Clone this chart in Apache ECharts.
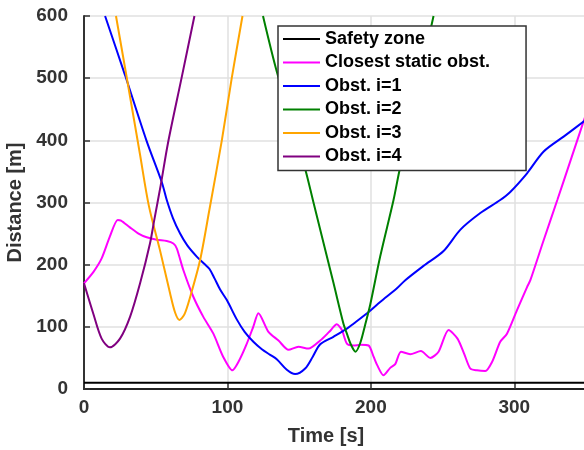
<!DOCTYPE html>
<html>
<head>
<meta charset="utf-8">
<script src="https://cdn.jsdelivr.net/npm/echarts@6/dist/echarts.min.js"></script>
<style>
  html, body { margin: 0; padding: 0; background: #fff; }
  #chart { width: 584px; height: 450px; }
</style>
</head>
<body>
<div id="chart"></div>
<script>
// values: time [s] and distance [m]
var safetyT = [0, 350];
var safetyD = [10, 10];

var staticT = [0, 6.5, 12.3, 18, 23.5, 25.8, 32, 38, 43.7, 50.7, 57.7, 62.3, 64.7, 69.3, 76.3, 83.2, 90.2, 97, 103.5, 108, 113, 118, 121.6, 128.6, 135.6, 142.6, 149.5, 156.5, 164.7, 171, 176.3, 179.8, 183.3, 187.9, 193, 198.4, 201.9, 204.5, 208.8, 213.5, 217, 221, 227.4, 234.9, 241.4, 247.2, 254.2, 260.4, 265, 269.3, 274, 279.8, 284.4, 290.2, 294.9, 301.9, 308.9, 311.2, 320, 330, 340, 350];
var staticD = [170, 188, 210, 245, 272, 271, 260, 250, 244, 240, 238, 234, 226, 191, 148, 116, 89, 52, 30, 45, 70, 100, 122, 92, 78, 63, 68, 65, 78, 92, 104, 95, 73, 70, 71, 70, 52, 38, 22, 34, 40, 60, 56, 61, 50, 60, 95, 81, 57, 33, 30, 29, 43, 76, 89, 127, 164, 175, 236, 304, 373, 442];

var obs1T = [14.7, 28.6, 43.5, 54.2, 57.7, 62, 67, 72, 78.6, 84, 87.5, 91, 94.9, 99.6, 106.5, 112, 118.1, 124, 129.8, 134.4, 141.4, 147.2, 154.2, 159.5, 164.7, 173.9, 183.3, 187.9, 199.5, 206.5, 218.2, 224, 236.7, 250.7, 262.3, 276.3, 290.2, 297.2, 308.9, 320.5, 334.4, 350];
var obs1D = [600, 505, 400, 333, 304, 275, 250, 231, 213, 201, 193, 178, 160, 143, 112, 92, 76, 64, 55, 48, 31, 24, 33, 52, 72, 84, 97, 105, 126, 140, 162, 175, 198, 222, 256, 283, 304, 317, 347, 382, 406, 433];

var obs2T = [124.8, 134.6, 154.2, 160, 174, 180.9, 183.3, 186, 189.3, 192.6, 196, 199.5, 206.5, 215.8, 219.8, 243.7];
var obs2D = [600, 509, 354, 300, 170, 105, 89, 72, 60, 74, 103, 135, 213, 304, 350, 600];

var obs3T = [22.3, 31, 39, 45.2, 53, 60, 63.5, 66.5, 70, 74, 80.9, 87.4, 96.1, 103, 110.5];
var obs3D = [600, 485, 378, 295, 223, 154, 123, 111, 120, 148, 207, 288, 400, 500, 600];

var obs4T = [0, 6.5, 12.3, 18.1, 25.1, 32.1, 39.1, 46, 49, 53.5, 58.5, 68, 77];
var obs4D = [170, 121, 81, 67, 81, 116, 170, 234, 272, 328, 395, 500, 600];

var xTicks = [0, 100, 200, 300];

function zip(t, d) {
  return t.map(function (v, i) { return [v, d[i]]; });
}

var chart = echarts.init(document.getElementById('chart'));

var font = 'Liberation Sans, Arial, sans-serif';

function lineSeries(name, t, d, color, smooth) {
  return {
    name: name,
    type: 'line',
    data: zip(t, d),
    symbol: 'none',
    smooth: smooth,
    color: color,
    lineStyle: { width: 2, color: color },
    animation: false
  };
}

var option = {
  animation: false,
  grid: {
    left: 84,
    right: -2,
    top: 16,
    bottom: 61,
    outerBoundsMode: 'none'
  },
  legend: {
    orient: 'vertical',
    left: 278,
    top: 26,
    padding: [4, 36, 5, 5],
    itemGap: 5.5,
    itemWidth: 37,
    itemHeight: 18,
    icon: 'path://M0,0h37v2h-37z',
    symbolKeepAspect: true,
    backgroundColor: '#fff',
    borderColor: '#333',
    borderWidth: 1.5,
    textStyle: {
      fontFamily: font,
      fontSize: 18,
      fontWeight: 'bold',
      color: '#000'
    },
    data: ['Safety zone', 'Closest static obst.', 'Obst. i=1', 'Obst. i=2', 'Obst. i=3', 'Obst. i=4']
  },
  xAxis: {
    type: 'value',
    min: 0,
    max: 350,
    interval: 100,
    name: 'Time [s]',
    nameLocation: 'middle',
    nameGap: 37,
    nameTextStyle: { fontFamily: font, fontSize: 20, fontWeight: 'bold', color: '#333', padding: [0, 18, 0, 0] },
    axisLine: { show: true, onZero: false, lineStyle: { color: '#222', width: 2 } },
    axisTick: { show: true, inside: true, length: 6, lineStyle: { color: '#333', width: 1.5 } },
    axisLabel: {
      fontFamily: font,
      fontSize: 19,
      fontWeight: 'bold',
      color: '#333',
      margin: 9,
      showMaxLabel: false,
      formatter: function (v) { return xTicks.indexOf(v) >= 0 ? String(v) : ''; }
    },
    splitLine: { show: true, lineStyle: { color: '#e0e0e0', width: 1.5 } }
  },
  yAxis: {
    type: 'value',
    min: 0,
    max: 600,
    interval: 100,
    name: 'Distance [m]',
    nameLocation: 'middle',
    nameGap: 51,
    nameTextStyle: { fontFamily: font, fontSize: 20, fontWeight: 'bold', color: '#333' },
    axisLine: { show: true, lineStyle: { color: '#333', width: 2 } },
    axisTick: { show: true, inside: true, length: 6, lineStyle: { color: '#333', width: 1.5 } },
    axisLabel: {
      fontFamily: font,
      fontSize: 19,
      fontWeight: 'bold',
      color: '#333',
      margin: 16
    },
    splitLine: { show: true, lineStyle: { color: '#e0e0e0', width: 1.5 } }
  },
  series: [
    lineSeries('Safety zone', safetyT, safetyD, '#000000', false),
    lineSeries('Closest static obst.', staticT, staticD, '#ff00ff', 0.25),
    lineSeries('Obst. i=1', obs1T, obs1D, '#0000ff', 0.3),
    lineSeries('Obst. i=2', obs2T, obs2D, '#008000', 0.3),
    lineSeries('Obst. i=3', obs3T, obs3D, '#ffa500', 0.3),
    lineSeries('Obst. i=4', obs4T, obs4D, '#800080', 0.3)
  ]
};

chart.setOption(option);
</script>
</body>
</html>
